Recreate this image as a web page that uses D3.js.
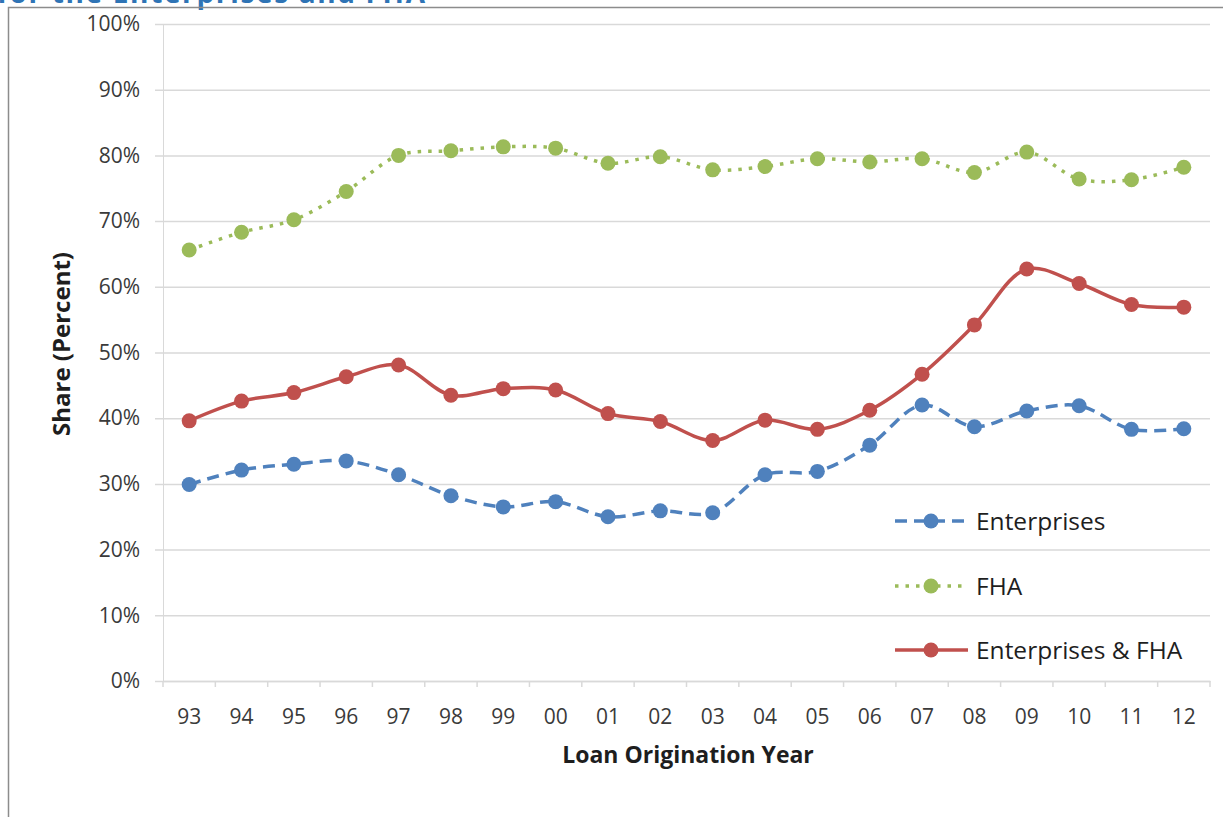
<!DOCTYPE html>
<html><head><meta charset="utf-8">
<script src="https://cdn.jsdelivr.net/npm/d3@7/dist/d3.min.js"></script>
<style>body{margin:0;background:#fff;overflow:hidden}svg{display:block}</style>
</head><body>
<svg id="c" width="1223" height="817"></svg>
<script>
const years = ["93","94","95","96","97","98","99","00","01","02","03","04","05","06","07","08","09","10","11","12"];
const enterprises = [29.9,32.1,33.0,33.5,31.4,28.2,26.5,27.3,25.0,25.9,25.6,31.4,31.9,35.9,42.0,38.7,41.1,41.9,38.3,38.4];
const fha = [65.6,68.3,70.2,74.5,80.0,80.7,81.3,81.1,78.8,79.8,77.8,78.3,79.5,79.0,79.5,77.4,80.5,76.4,76.3,78.2];
const combined = [39.6,42.6,43.9,46.3,48.1,43.5,44.5,44.3,40.7,39.5,36.6,39.7,38.3,41.2,46.7,54.2,62.7,60.5,57.3,56.9];
const yTicks = [0,10,20,30,40,50,60,70,80,90,100];
const seriesNames = ["Enterprises","FHA","Enterprises & FHA"];

const svg = d3.select("#c");
const font = "'Open Sans', 'Liberation Sans', sans-serif";
const L = 163, R = 1210, T = 24, B = 681;
const x = d3.scaleBand().domain(years).range([L, R]).padding(0);
const y = d3.scaleLinear().domain([0, 100]).range([B, T]);

// title fragment (cut off at top, as in the reference)
svg.append("text").attr("x", -3).attr("y", 3).attr("font-family", font)
  .attr("font-weight", "bold").attr("font-size", 28).attr("fill", "#2f74b5")
  .attr("textLength", 428).text("for the Enterprises and FHA");

// outer border
svg.append("path").attr("d", "M8.5,817 V7.5 H1223").attr("fill", "none")
  .attr("stroke", "#8c8c8c").attr("stroke-width", 1.5);

// gridlines + y labels
const ya = d3.axisLeft(y).tickValues(yTicks).tickSize(-(R - L)).tickPadding(23).tickFormat(d => d + "%");
const yg = svg.append("g").attr("transform", `translate(${L},0)`).call(ya);
yg.select(".domain").attr("stroke", "#d9d9d9");
yg.selectAll(".tick line").attr("stroke", "#d9d9d9").attr("stroke-width", 1.5).attr("x1", -8);
yg.selectAll(".tick text").attr("font-family", font).attr("font-size", 21).attr("fill", "#3a3a3a");

// x axis
const xa = d3.axisBottom(x).tickSize(0).tickPadding(28);
const xg = svg.append("g").attr("transform", `translate(0,${B})`).call(xa);
xg.select(".domain").attr("stroke", "#d9d9d9").attr("stroke-width", 1.5);
xg.selectAll(".tick text").attr("font-family", font).attr("font-size", 21).attr("fill", "#3a3a3a");
const bounds = years.map(d => x(d)).concat([R]);
xg.selectAll("line.bt").data(bounds).join("line").attr("class", "bt")
  .attr("x1", d => d).attr("x2", d => d).attr("y1", 0).attr("y2", 6)
  .attr("stroke", "#d9d9d9").attr("stroke-width", 1.5);

// axis titles
svg.append("text").attr("x", 688).attr("y", 763).attr("text-anchor", "middle")
  .attr("font-family", font).attr("font-weight", "bold").attr("font-size", 23)
  .attr("fill", "#1e1e1e").text("Loan Origination Year");
svg.append("text").attr("transform", "translate(70,344) rotate(-90)").attr("text-anchor", "middle")
  .attr("font-family", font).attr("font-weight", "bold").attr("font-size", 24)
  .attr("fill", "#1e1e1e").text("Share (Percent)");

const styles = [
  {data: enterprises, color: "#4f81bd", dash: "12,7"},
  {data: fha, color: "#9bbb59", dash: "3.5,7"},
  {data: combined, color: "#c0504d", dash: null}
];
const cx = d => x(d) + x.bandwidth() / 2;
const line = d3.line().x((d, i) => cx(years[i])).y(d => y(d)).curve(d3.curveCatmullRom.alpha(0.5));

styles.forEach(s => {
  svg.append("path").datum(s.data).attr("d", line).attr("fill", "none")
    .attr("stroke", s.color).attr("stroke-width", 3.5)
    .attr("stroke-dasharray", s.dash);
  svg.append("g").selectAll("circle").data(s.data).join("circle")
    .attr("cx", (d, i) => cx(years[i])).attr("cy", d => y(d)).attr("r", 7.5)
    .attr("fill", s.color);
});

// legend
const legY = [521, 586, 650];
styles.forEach((s, i) => {
  const g = svg.append("g");
  g.append("line").attr("x1", 895).attr("x2", 968).attr("y1", legY[i]).attr("y2", legY[i])
    .attr("stroke", s.color).attr("stroke-width", 3.5).attr("stroke-dasharray", s.dash);
  g.append("circle").attr("cx", 931).attr("cy", legY[i]).attr("r", 7.5).attr("fill", s.color);
  g.append("text").attr("x", 976).attr("y", legY[i]).attr("dy", "0.35em")
    .attr("font-family", font).attr("font-size", 24.5).attr("fill", "#1e1e1e").text(seriesNames[i]);
});
</script>
</body></html>
